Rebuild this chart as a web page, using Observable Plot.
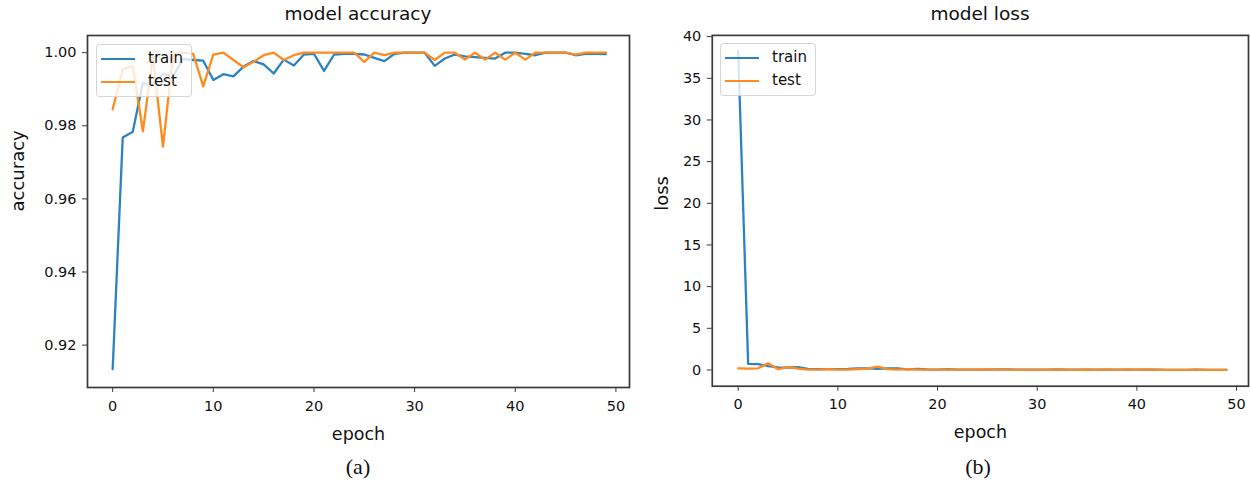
<!DOCTYPE html>
<html>
<head>
<meta charset="utf-8">
<script src="https://cdn.jsdelivr.net/npm/d3@7"></script>
<script src="https://cdn.jsdelivr.net/npm/@observablehq/plot@0.6"></script>
<style>
  body { margin: 0; background: #fff; }
  #wrap { position: relative; width: 1250px; height: 485px; overflow: hidden; background: #fff; font-family: "DejaVu Sans", sans-serif; color: #111; }
  .panel { position: absolute; top: 0; }
  .title { position: absolute; top: 3px; font-size: 18.5px; transform: translateX(-50%); white-space: nowrap; }
  .cap { position: absolute; top: 454px; font-family: "Liberation Serif", "Times New Roman", serif; font-size: 22px; transform: translateX(-50%); }
  .legend { position: absolute; border: 1px solid rgba(204,204,204,0.8); border-radius: 4px; background: rgba(255,255,255,0.8); box-sizing: border-box; }
  .legend .sw { position: absolute; height: 2.4px; width: 34px; left: 4px; }
  .legend .lb { position: absolute; left: 51px; font-size: 15px; line-height: 15px; }
</style>
</head>
<body>
<div id="wrap">
  <div id="pa" class="panel" style="left:0px"></div>
  <div id="pb" class="panel" style="left:640px"></div>
  <div class="title" style="left:358px">model accuracy</div>
  <div class="title" style="left:980px">model loss</div>
  <div class="cap" style="left:358px">(a)</div>
  <div class="cap" style="left:978px">(b)</div>
  <div class="legend" style="left:96px;top:44px;width:96px;height:53px">
    <div class="sw" style="top:13px;background:#2b83c0"></div><div class="lb" style="top:6px">train</div>
    <div class="sw" style="top:36px;background:#ff8b1f"></div><div class="lb" style="top:29px">test</div>
  </div>
  <div class="legend" style="left:720px;top:43px;width:96px;height:53px">
    <div class="sw" style="top:13px;background:#2b83c0"></div><div class="lb" style="top:6px">train</div>
    <div class="sw" style="top:36px;background:#ff8b1f"></div><div class="lb" style="top:29px">test</div>
  </div>
</div>
<script>
const epochs = d3.range(50);
const seriesNames = ["train", "test"];
const seriesColors = ["#2b83c0", "#ff8b1f"];
const xTicks = [0, 10, 20, 30, 40, 50];

const trainAcc = [0.9134, 0.9768, 0.9784, 0.9917, 0.9912, 0.9942, 0.9935, 0.9983, 0.9980, 0.9978,
  0.9925, 0.9941, 0.9935, 0.9962, 0.9977, 0.9968, 0.9943, 0.9981, 0.9965, 0.9995,
  0.9997, 0.9950, 0.9995, 0.9997, 0.9997, 0.9995, 0.9986, 0.9977, 0.9997, 1.0000,
  1.0000, 1.0000, 0.9964, 0.9984, 0.9995, 0.9990, 0.9988, 0.9986, 0.9984, 1.0000,
  1.0000, 0.9997, 0.9993, 1.0000, 1.0000, 1.0000, 0.9993, 0.9997, 0.9997, 0.9996];
const testAcc = [0.9845, 0.9954, 0.9963, 0.9785, 0.9988, 0.9743, 0.9995, 1.0000, 0.9997, 0.9908,
  0.9995, 1.0000, 0.9980, 0.9960, 0.9975, 0.9993, 1.0000, 0.9980, 0.9993, 1.0000,
  1.0000, 1.0000, 1.0000, 1.0000, 1.0000, 0.9975, 1.0000, 0.9993, 1.0000, 1.0000,
  1.0000, 1.0000, 0.9980, 1.0000, 1.0000, 0.9981, 1.0000, 0.9981, 1.0000, 0.9981,
  1.0000, 0.9981, 1.0000, 1.0000, 1.0000, 1.0000, 0.9995, 1.0000, 1.0000, 1.0000];
const trainLoss = [38.3, 0.72, 0.70, 0.45, 0.30, 0.28, 0.35, 0.12, 0.10, 0.10,
  0.10, 0.12, 0.20, 0.18, 0.12, 0.20, 0.18, 0.08, 0.12, 0.06,
  0.05, 0.10, 0.05, 0.05, 0.04, 0.05, 0.06, 0.08, 0.04, 0.03,
  0.03, 0.03, 0.08, 0.05, 0.04, 0.05, 0.05, 0.05, 0.05, 0.03,
  0.03, 0.03, 0.04, 0.02, 0.02, 0.02, 0.03, 0.02, 0.02, 0.02];
const testLoss = [0.20, 0.15, 0.20, 0.80, 0.10, 0.35, 0.15, 0.05, 0.05, 0.10,
  0.05, 0.05, 0.10, 0.15, 0.40, 0.10, 0.05, 0.10, 0.05, 0.03,
  0.03, 0.03, 0.03, 0.03, 0.03, 0.08, 0.03, 0.04, 0.02, 0.02,
  0.02, 0.02, 0.06, 0.02, 0.02, 0.06, 0.02, 0.06, 0.02, 0.06,
  0.02, 0.06, 0.02, 0.02, 0.02, 0.02, 0.03, 0.02, 0.02, 0.02];

const accTicks = [0.92, 0.94, 0.96, 0.98, 1.00];
const lossTicks = [0, 5, 10, 15, 20, 25, 30, 35, 40];

function rows(train, test) {
  return [
    ...epochs.map((e, i) => ({epoch: e, value: train[i], series: "train"})),
    ...epochs.map((e, i) => ({epoch: e, value: test[i], series: "test"}))
  ];
}

function panel({data, width, marginLeft, marginRight, xDomain, yDomain, yTicks, yFormat, ylabel, ylabelDx}) {
  return Plot.plot({
    width, height: 450,
    marginTop: 35, marginBottom: 63, marginLeft, marginRight,
    style: {fontFamily: "DejaVu Sans, sans-serif", fontSize: "14.5px", color: "#111", background: "transparent", overflow: "visible"},
    x: {domain: xDomain},
    y: {domain: yDomain},
    color: {domain: seriesNames, range: seriesColors},
    marks: [
      Plot.line(data, {x: "epoch", y: "value", z: "series", stroke: "series", strokeWidth: 2.3}),
      Plot.frame({stroke: "#3a3a3a", strokeWidth: 1.7}),
      Plot.axisX({ticks: xTicks, tickSize: 5, tickPadding: 8, label: null, stroke: "#3a3a3a"}),
      Plot.axisY({ticks: yTicks, tickFormat: yFormat, tickSize: 5, tickPadding: 6, label: null, stroke: "#3a3a3a"}),
      Plot.text(["epoch"], {frameAnchor: "bottom", dy: 52, text: d => d, fontSize: 17.5}),
      Plot.text([ylabel], {frameAnchor: "left", dx: ylabelDx, rotate: -90, text: d => d, fontSize: 18})
    ]
  });
}

document.getElementById("pa").append(panel({
  data: rows(trainAcc, testAcc), width: 640, marginLeft: 87, marginRight: 11,
  xDomain: [-2.5, 51.35], yDomain: [0.9084, 1.0047], yTicks: accTicks, yFormat: d3.format(".2f"),
  ylabel: "accuracy", ylabelDx: -69
}));
document.getElementById("pb").append(panel({
  data: rows(trainLoss, testLoss), width: 612, marginLeft: 72, marginRight: 2,
  xDomain: [-2.6, 51.2], yDomain: [-1.95, 40.15], yTicks: lossTicks, yFormat: d3.format("d"),
  ylabel: "loss", ylabelDx: -50
}));
</script>
</body>
</html>
